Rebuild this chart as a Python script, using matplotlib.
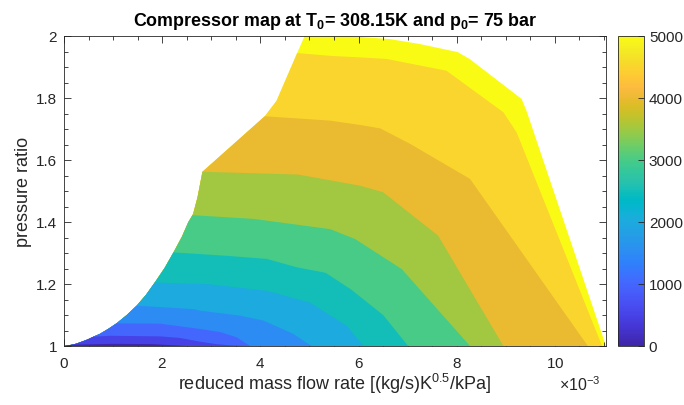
import numpy as np
import matplotlib
matplotlib.use("Agg")
import matplotlib.pyplot as plt
from matplotlib.colors import LinearSegmentedColormap, Normalize
from matplotlib.ticker import ScalarFormatter, FuncFormatter, AutoMinorLocator
import matplotlib.cm as cm

plt.rcParams['font.family'] = ['Liberation Sans', 'DejaVu Sans']
plt.rcParams['mathtext.fontset'] = 'custom'
plt.rcParams['mathtext.rm'] = 'Liberation Sans'
plt.rcParams['mathtext.it'] = 'Liberation Sans'
plt.rcParams['mathtext.bf'] = 'Liberation Sans:bold'

# ---------------- data (mass flow in 1e-3 units, pressure ratio) ----------------
MFR_UNIT = 1e-3

surge_x = [0.00, 0.20, 0.33, 0.48, 0.60, 0.73, 0.90, 1.07, 1.28, 1.48, 1.67, 1.85, 2.05, 2.23, 2.40, 2.53, 2.63, 2.72, 2.82, 4.09, 4.33, 4.75, 4.91, 4.94]
surge_y = [1.000, 1.005, 1.012, 1.021, 1.030, 1.039, 1.055, 1.073, 1.100, 1.130, 1.165, 1.205, 1.252, 1.302, 1.352, 1.399, 1.426, 1.480, 1.562, 1.741, 1.791, 1.945, 2.003, 2.020]

outer_x = [4.94, 5.42, 6.64, 7.25, 8.02, 8.27, 9.32, 9.42, 11.04]
outer_y = [2.020, 2.004, 1.990, 1.974, 1.948, 1.925, 1.797, 1.759, 1.000]

speed_levels = [500, 1000, 1500, 2000, 2500, 3000, 3500, 4000, 4500, 5000]

line_500_x = [0.15, 1.00, 1.80, 2.50]
line_500_y = [1.004, 1.007, 1.006, 1.000]
line_1000_x = [0.60, 0.94, 1.96, 2.36, 2.77, 3.10, 3.40, 3.79]
line_1000_y = [1.030, 1.033, 1.031, 1.026, 1.014, 1.006, 1.002, 1.000]
line_1500_x = [1.07, 1.96, 2.77, 3.18, 3.52, 3.79]
line_1500_y = [1.073, 1.072, 1.055, 1.045, 1.028, 1.000]
line_2000_x = [1.48, 2.63, 2.77, 3.58, 4.06, 4.67, 5.04]
line_2000_y = [1.130, 1.119, 1.114, 1.098, 1.082, 1.039, 1.000]
line_2500_x = [1.85, 2.77, 2.97, 4.13, 5.01, 5.76, 6.10]
line_2500_y = [1.205, 1.200, 1.199, 1.178, 1.140, 1.065, 1.000]
line_3000_x = [2.23, 3.31, 4.13, 4.74, 5.33, 5.85, 6.50, 7.01]
line_3000_y = [1.302, 1.291, 1.281, 1.254, 1.236, 1.182, 1.100, 1.000]
line_3500_x = [2.62, 3.86, 5.42, 5.93, 6.88, 8.27]
line_3500_y = [1.422, 1.410, 1.377, 1.345, 1.248, 1.000]
line_4000_x = [2.82, 4.77, 6.03, 6.50, 7.62, 8.95]
line_4000_y = [1.562, 1.553, 1.517, 1.496, 1.356, 1.000]
line_4500_x = [4.09, 5.42, 6.03, 6.44, 7.05, 8.27, 10.67]
line_4500_y = [1.741, 1.727, 1.713, 1.702, 1.652, 1.539, 1.000]
line_5000_x = [4.75, 5.42, 6.03, 6.57, 7.79, 8.95, 9.22, 10.96]
line_5000_y = [1.945, 1.936, 1.931, 1.926, 1.888, 1.754, 1.689, 1.000]

lines_x = [line_500_x, line_1000_x, line_1500_x, line_2000_x, line_2500_x,
           line_3000_x, line_3500_x, line_4000_x, line_4500_x, line_5000_x]
lines_y = [line_500_y, line_1000_y, line_1500_y, line_2000_y, line_2500_y,
           line_3000_y, line_3500_y, line_4000_y, line_4500_y, line_5000_y]

cbar_ticks = [0, 1000, 2000, 3000, 4000, 5000]
x_ticks = [0, 2, 4, 6, 8, 10]
y_ticks = [1, 1.2, 1.4, 1.6, 1.8, 2]

# ---------------- parula colormap ----------------
parula_rgb = [
    [0.2422, 0.1504, 0.6603], [0.2504, 0.1650, 0.7076], [0.2578, 0.1818, 0.7511], [0.2647, 0.1978, 0.7952],
    [0.2706, 0.2147, 0.8364], [0.2751, 0.2342, 0.8710], [0.2783, 0.2559, 0.8991], [0.2803, 0.2782, 0.9221],
    [0.2813, 0.3006, 0.9414], [0.2810, 0.3228, 0.9579], [0.2795, 0.3447, 0.9717], [0.2760, 0.3667, 0.9829],
    [0.2699, 0.3892, 0.9906], [0.2602, 0.4123, 0.9952], [0.2440, 0.4358, 0.9988], [0.2206, 0.4603, 0.9973],
    [0.1963, 0.4847, 0.9892], [0.1834, 0.5074, 0.9798], [0.1786, 0.5289, 0.9682], [0.1764, 0.5499, 0.9520],
    [0.1687, 0.5703, 0.9359], [0.1540, 0.5902, 0.9218], [0.1460, 0.6091, 0.9079], [0.1380, 0.6276, 0.8973],
    [0.1248, 0.6459, 0.8883], [0.1113, 0.6635, 0.8763], [0.0952, 0.6798, 0.8598], [0.0689, 0.6948, 0.8394],
    [0.0297, 0.7082, 0.8163], [0.0036, 0.7203, 0.7917], [0.0067, 0.7312, 0.7660], [0.0433, 0.7411, 0.7394],
    [0.0964, 0.7500, 0.7120], [0.1408, 0.7584, 0.6842], [0.1717, 0.7670, 0.6554], [0.1938, 0.7758, 0.6251],
    [0.2161, 0.7843, 0.5923], [0.2470, 0.7918, 0.5567], [0.2906, 0.7973, 0.5188], [0.3406, 0.8008, 0.4789],
    [0.3909, 0.8029, 0.4354], [0.4456, 0.8024, 0.3909], [0.5044, 0.7993, 0.3480], [0.5616, 0.7942, 0.3045],
    [0.6174, 0.7876, 0.2612], [0.6720, 0.7793, 0.2227], [0.7242, 0.7698, 0.1910], [0.7738, 0.7598, 0.1646],
    [0.8203, 0.7498, 0.1535], [0.8634, 0.7406, 0.1596], [0.9035, 0.7330, 0.1774], [0.9393, 0.7288, 0.2100],
    [0.9728, 0.7298, 0.2394], [0.9956, 0.7434, 0.2371], [0.9970, 0.7659, 0.2199], [0.9952, 0.7893, 0.2028],
    [0.9892, 0.8136, 0.1885], [0.9786, 0.8386, 0.1766], [0.9676, 0.8639, 0.1643], [0.9610, 0.8890, 0.1537],
    [0.9597, 0.9135, 0.1423], [0.9628, 0.9373, 0.1265], [0.9691, 0.9606, 0.1064], [0.9769, 0.9839, 0.0805]]
parula = LinearSegmentedColormap.from_list('parula', parula_rgb, N=256)
norm = Normalize(vmin=0, vmax=5000)

# ---------------- figure ----------------
W, H = 684, 406
fig = plt.figure(figsize=(W / 100, H / 100), dpi=100)
ax_l, ax_r, ax_t, ax_b = 64, 606, 37, 347
ax = fig.add_axes([ax_l / W, 1 - ax_b / H, (ax_r - ax_l) / W, (ax_b - ax_t) / H])

sx = np.array(surge_x) * MFR_UNIT
sy = np.array(surge_y)

# full domain (region above top level)
dom_x = np.concatenate([sx, np.array(outer_x) * MFR_UNIT])
dom_y = np.concatenate([sy, np.array(outer_y)])
ax.fill(dom_x, dom_y, color=parula(norm(speed_levels[-1])), lw=0, zorder=1)

# regions below each speed line, painted from top to bottom
step = speed_levels[1] - speed_levels[0]
for i in range(len(speed_levels) - 1, -1, -1):
    lx = np.array(lines_x[i]) * MFR_UNIT
    ly = np.array(lines_y[i])
    keep = sx < lx[0] - 1e-9
    px = np.concatenate([sx[keep], lx])
    py = np.concatenate([sy[keep], ly])
    ax.fill(px, py, color=parula(norm(speed_levels[i] - step)), lw=0, zorder=2 + (len(speed_levels) - i))

ax.set_xlim(0, outer_x[-1] * MFR_UNIT)
ax.set_ylim(1, 2)

txt_col = '#262626'
tick_fs = 11
ax.set_xticks(np.array(x_ticks) * MFR_UNIT)
ax.set_yticks(y_ticks)
fmt = ScalarFormatter(useMathText=True)
fmt.set_powerlimits((-3, -3))
ax.xaxis.set_major_formatter(fmt)
ax.yaxis.set_major_formatter(FuncFormatter(lambda v, p: f'{v:g}'))
ax.xaxis.set_minor_locator(AutoMinorLocator(4))
ax.yaxis.set_minor_locator(AutoMinorLocator(4))
ax.tick_params(which='both', direction='in', top=True, right=True, colors=txt_col,
               labelsize=tick_fs, width=0.6)
ax.tick_params(which='major', length=5)
ax.tick_params(which='minor', length=3)
ax.tick_params(axis='x', pad=7)
ax.tick_params(axis='y', pad=5)
for s in ax.spines.values():
    s.set_color(txt_col)
    s.set_linewidth(0.6)
    s.set_zorder(30)
ax.xaxis.get_offset_text().set_fontsize(11.5)
ax.xaxis.get_offset_text().set_color(txt_col)
ax.xaxis.get_offset_text().set_x(0.99)

ax.set_xlabel(r'reduced mass flow rate [(kg/s)K$^{0.5}$/kPa]', fontsize=13, color=txt_col, labelpad=1)
ax.set_ylabel('pressure ratio', fontsize=13, color=txt_col, labelpad=3)
ax.set_title(r'Compressor map at T$_\mathbf{0}$= 308.15K and p$_\mathbf{0}$= 75 bar',
             fontsize=12.9, fontweight='bold', color='black', pad=8)

# colorbar
cb_l, cb_r = 618, 644
cax = fig.add_axes([cb_l / W, 1 - ax_b / H, (cb_r - cb_l) / W, (ax_b - ax_t) / H])
sm = cm.ScalarMappable(norm=norm, cmap=parula)
cb = fig.colorbar(sm, cax=cax, ticks=cbar_ticks)
cb.ax.tick_params(direction='in', length=4, width=0.6, colors=txt_col, labelsize=tick_fs)
cb.outline.set_edgecolor(txt_col)
cb.outline.set_linewidth(0.6)

fig.savefig('out.png', dpi=100)
